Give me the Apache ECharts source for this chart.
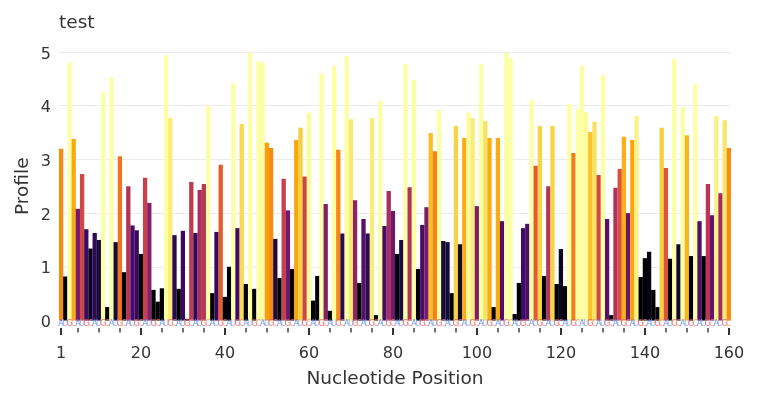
<!DOCTYPE html>
<html>
<head>
<meta charset="utf-8">
<script src="https://cdn.jsdelivr.net/npm/echarts@6.0.0/dist/echarts.min.js"></script>
<style>
  body { margin: 0; background: #fff; }
  #profileChart { width: 758px; height: 403px; }
</style>
</head>
<body>
<div id="profileChart"></div>
<script>
var profileChart = echarts.init(document.getElementById("profileChart"));

// profile value per nucleotide position (1..160)
let profileValues = [
  3.2, 0.82, 4.8, 3.38, 2.08, 2.73, 1.7, 1.34, 1.63, 1.5,
  4.25, 0.25, 4.52, 1.46, 3.06, 0.9, 2.5, 1.77, 1.68, 1.24,
  2.66, 2.19, 0.57, 0.35, 0.6, 4.94, 3.77, 1.59, 0.59, 1.67,
  0.03, 2.58, 1.63, 2.43, 2.54, 3.99, 0.51, 1.65, 2.9, 0.44,
  1.0, 4.42, 1.72, 3.66, 0.68, 4.98, 0.59, 4.83, 4.8, 3.31,
  3.21, 1.52, 0.79, 2.64, 2.05, 0.96, 3.36, 3.59, 2.68, 3.87,
  0.37, 0.83, 4.6, 2.17, 0.18, 4.74, 3.18, 1.62, 4.93, 3.75,
  2.24, 0.7, 1.89, 1.62, 3.77, 0.1, 4.09, 1.76, 2.41, 2.04,
  1.24, 1.5, 4.78, 2.48, 4.48, 0.96, 1.78, 2.11, 3.49, 3.15,
  3.92, 1.48, 1.46, 0.51, 3.62, 1.42, 3.4, 3.88, 3.77, 2.13,
  4.78, 3.71, 3.4, 0.25, 3.4, 1.85, 4.98, 4.89, 0.12, 0.7,
  1.72, 1.8, 4.11, 2.88, 3.62, 0.83, 2.5, 3.62, 0.68, 1.33,
  0.64, 4.03, 3.12, 3.95, 4.74, 3.88, 3.51, 3.7, 2.71, 4.57,
  1.89, 0.1, 2.47, 2.82, 3.42, 2.0, 3.36, 3.81, 0.81, 1.16,
  1.28, 0.57, 0.25, 3.59, 2.84, 1.15, 4.87, 1.42, 3.98, 3.45,
  1.2, 4.4, 1.85, 1.2, 2.54, 1.96, 3.81, 2.37, 3.73, 3.21
];

// sequence shown under the bars
let sequence = "AUGCAUGCAUGCAUGCAUGCAUGCAUGCAUGCAUGCAUGC" +
               "AUGCAUGCAUGCAUGCAUGCAUGCAUGCAUGCAUGCAUGC" +
               "AUGCAUGCAUGCAUGCAUGCAUGCAUGCAUGCAUGCAUGC" +
               "AUGCAUGCAUGCAUGCAUGCAUGCAUGCAUGCAUGCAUGC";

let majorTicks = [1, 20, 40, 60, 80, 100, 120, 140, 160];
let minorTicks = [5, 10, 15, 25, 30, 35, 45, 50, 55, 65, 70, 75, 85, 90, 95,
                  105, 110, 115, 125, 130, 135, 145, 150, 155];
let yTicks = [0, 1, 2, 3, 4, 5];

let letterColors = { A: "#4a7cf2", U: "#86a4f3", G: "#ee5555", C: "#f28c8c" };

// inferno colour scale, stretched over 1.2 .. 3.9
let inferno = ["#000004", "#160b39", "#420a68", "#6a176e", "#932667", "#bc3754",
               "#dd513a", "#f37819", "#fca50a", "#f6d746", "#fcffa4"];
let colorMin = 1.2, colorMax = 3.9;

function barColor(v) {
  let t = (v - colorMin) / (colorMax - colorMin);
  t = Math.max(0, Math.min(1, t));
  return echarts.color.lerp(t, inferno);
}

let barData = [];
let letterData = [];
for (let i = 0; i < profileValues.length; i++) {
  barData.push({
    value: [i + 1, profileValues[i]],
    itemStyle: { color: barColor(profileValues[i]) }
  });
  letterData.push({
    name: sequence[i],
    value: [i + 1, 0],
    label: { color: letterColors[sequence[i]] }
  });
}

const font = "DejaVu Sans";

profileChart.setOption(
  (option = {
    animation: false,
    backgroundColor: "#fff",
    textStyle: { fontFamily: font },
    title: {
      text: "test",
      left: 59,
      top: 14,
      padding: 0,
      textStyle: { fontSize: 18.5, fontWeight: "normal", color: "#333", fontFamily: font }
    },
    grid: {
      left: 59,
      right: 27,
      top: 52,
      bottom: 82.5
    },
    xAxis: [
      {
        type: "value",
        min: 0.5,
        max: 160.5,
        offset: 7.5,
        name: "Nucleotide Position",
        nameLocation: "middle",
        nameGap: 42,
        nameTextStyle: { fontSize: 18.5, color: "#333", fontFamily: font },
        axisLine: { show: false, onZero: false },
        axisTick: {
          show: true,
          customValues: majorTicks,
          length: 7,
          lineStyle: { color: "#333", width: 2 }
        },
        axisLabel: {
          customValues: majorTicks,
          fontSize: 16,
          color: "#333",
          margin: 17.5,
          fontFamily: font
        },
        splitLine: { show: false }
      },
      {
        // minor ticks every 5
        type: "value",
        min: 0.5,
        max: 160.5,
        offset: 7.5,
        position: "bottom",
        axisLine: { show: false, onZero: false },
        axisTick: {
          show: true,
          customValues: minorTicks,
          length: 4.5,
          lineStyle: { color: "#444", width: 1.5 }
        },
        axisLabel: { show: false },
        splitLine: { show: false }
      }
    ],
    yAxis: {
      type: "value",
      min: 0,
      max: 5,
      interval: 1,
      name: "Profile",
      nameLocation: "middle",
      nameGap: 26,
      nameMoveOverlap: false,
      nameTextStyle: { fontSize: 18.5, color: "#333", fontFamily: font },
      axisLine: { show: false },
      axisTick: { show: false },
      axisLabel: {
        customValues: yTicks,
        fontSize: 16,
        color: "#333",
        margin: 8,
        verticalAlign: "top",
        lineHeight: 5,
        fontFamily: font
      },
      splitLine: { lineStyle: { color: "#ebebeb", width: 1 } }
    },
    series: [
      {
        type: "bar",
        xAxisIndex: 0,
        data: barData,
        barWidth: 4.3
      },
      {
        type: "scatter",
        xAxisIndex: 0,
        data: letterData,
        symbolSize: 1,
        itemStyle: { color: "rgba(0,0,0,0)" },
        clip: false,
        label: {
          show: true,
          position: "inside",
          offset: [0, 3.5],
          formatter: "{b}",
          fontSize: 8,
          fontFamily: font
        }
      }
    ]
  })
);
</script>
</body>
</html>
